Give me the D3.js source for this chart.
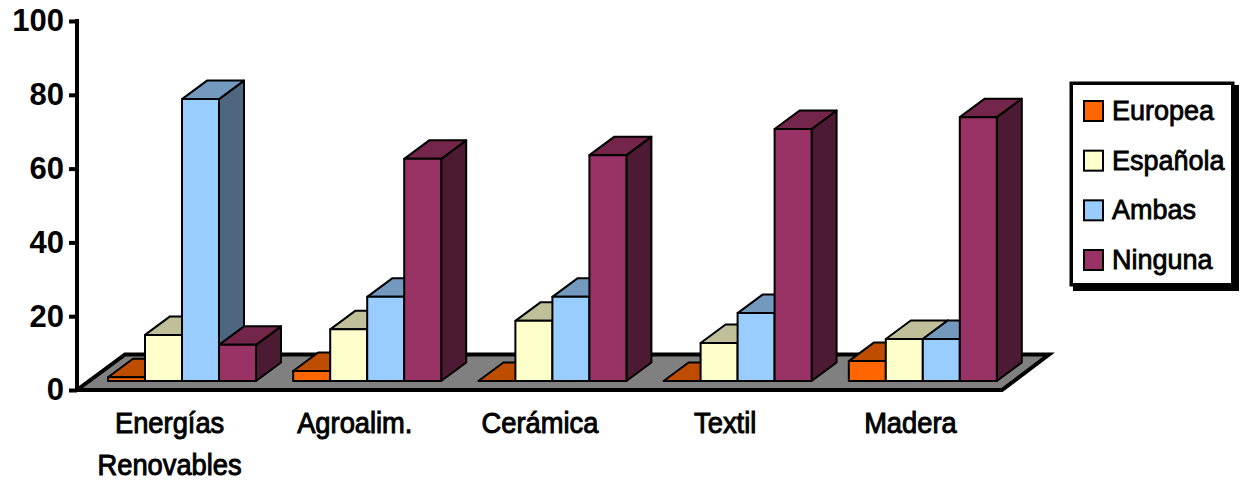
<!DOCTYPE html>
<html><head><meta charset="utf-8">
<script src="https://cdn.jsdelivr.net/npm/d3@7/dist/d3.min.js"></script>
<style>html,body{margin:0;padding:0;background:#fff}svg{display:block}text{font-family:"Liberation Sans",Arial,sans-serif;fill:#000}</style>
</head><body><svg id="c" width="1241" height="481"></svg>
<script>
const sectors = [["Energías","Renovables"],["Agroalim."],["Cerámica"],["Textil"],["Madera"]];
const seriesNames = ["Europea","Española","Ambas","Ninguna"];
const europea = [1, 2.7, 0, 0, 5.4];
const espanola = [12.5, 14, 16.3, 10.3, 11.4];
const ambas = [76.4, 22.8, 22.8, 18.4, 11.4];
const ninguna = [9.8, 60.2, 61.2, 68.3, 71.5];
const yTicks = [0, 20, 40, 60, 80, 100];
const fills = ["#ff6600", "#ffffcc", "#99ccff", "#993366"];
const tops = ["#bf4d00", "#bfbf99", "#7399bf", "#732649"];
const sides = ["#803300", "#808066", "#4f6680", "#4d1a33"];

const svg = d3.select("#c");
const seriesValues = [europea, espanola, ambas, ninguna];
const y = d3.scaleLinear().domain([0, 100]).range([390, 21]);
const x = d3.scaleBand().domain(d3.range(sectors.length)).range([77, 1003]);
const inner = d3.scaleBand().domain(d3.range(seriesNames.length)).range([31, 179]);
const depthX = 25, depthY = 18.5, baseY = 381;
const pts = a => a.map(p => p.join(",")).join(" ");

// Floor of the 3D plot
svg.append("polygon")
  .attr("points", pts([[x.range()[0], y(0)], [x.range()[1] - 1, y(0)], [x.range()[1] + 46, y(0) - 35.5], [x.range()[0] + 48, y(0) - 35.5]]))
  .attr("fill", "#808080").attr("stroke", "#000").attr("stroke-width", 4).attr("stroke-linejoin", "miter");

// Columns, painted left to right so that each hides its neighbour's side
const bars = [];
sectors.forEach((_, i) => seriesValues.forEach((vals, s) => bars.push({i, s, v: vals[i]})));
const g = svg.append("g").attr("stroke", "#000").attr("stroke-width", 2).attr("stroke-linejoin", "round");
bars.forEach(d => {
  const x0 = x(d.i) + inner(d.s), x1 = x0 + inner.bandwidth();
  const yt = baseY - (y(0) - y(d.v));
  g.append("polygon").attr("fill", sides[d.s])
    .attr("points", pts([[x1, baseY], [x1 + depthX, baseY - depthY], [x1 + depthX, yt - depthY], [x1, yt]]));
  g.append("polygon").attr("fill", tops[d.s])
    .attr("points", pts([[x0, yt], [x0 + depthX, yt - depthY], [x1 + depthX, yt - depthY], [x1, yt]]));
  g.append("rect").attr("x", x0).attr("y", yt).attr("width", x1 - x0).attr("height", baseY - yt).attr("fill", fills[d.s]);
});

// Value axis
const ax = svg.append("g").attr("transform", "translate(77,0)")
  .call(d3.axisLeft(y).tickValues(yTicks).tickSize(8).tickPadding(5));
ax.select(".domain").attr("stroke", "#000").attr("stroke-width", 4).attr("d", `M0,${y(100) - 2}V${y(0) + 2}`);
ax.selectAll(".tick line").attr("stroke", "#000").attr("stroke-width", 4);
ax.selectAll(".tick text").style("font-family", '"Liberation Sans",Arial,sans-serif')
  .style("font-size", "31px").style("font-weight", "700").attr("fill", "#000");

// Category labels, slightly condensed
const cat = svg.append("g").attr("text-anchor", "middle").style("font-size", "30px")
  .attr("stroke", "#000").attr("stroke-width", 1);
sectors.forEach((lines, i) => lines.forEach((line, k) => {
  cat.append("text")
    .attr("transform", `translate(${x(i) + x.bandwidth() / 2},${433 + k * 42}) scale(0.91,1)`)
    .text(line);
}));

// Legend with its drop shadow
const lg = svg.append("g");
lg.append("rect").attr("x", 1073).attr("y", 85).attr("width", 166).attr("height", 206).attr("fill", "#000");
lg.append("rect").attr("x", 1071.25).attr("y", 83.25).attr("width", 161.5).attr("height", 201.5).attr("fill", "#fff").attr("stroke", "#000").attr("stroke-width", 3.5);
const legendY = d3.scalePoint().domain(seriesNames).range([111, 260]);
seriesNames.forEach((n, s) => {
  lg.append("rect").attr("x", 1084).attr("y", legendY(n) - 10).attr("width", 19).attr("height", 20)
    .attr("fill", fills[s]).attr("stroke", "#000").attr("stroke-width", 2);
  lg.append("text").attr("x", 1112).attr("y", legendY(n) + 9).style("font-size", "27px")
    .attr("stroke", "#000").attr("stroke-width", 0.8).text(n);
});
</script></body></html>
